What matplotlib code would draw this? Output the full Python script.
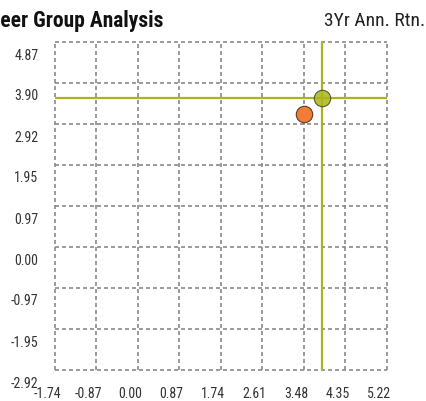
import matplotlib
matplotlib.use("Agg")
import matplotlib.pyplot as plt
from matplotlib.transforms import ScaledTranslation

x_ticks = [-1.74, -0.87, 0.00, 0.87, 1.74, 2.61, 3.48, 4.35, 5.22]
y_ticks = [-2.92, -1.95, -0.97, 0.00, 0.97, 1.95, 2.92, 3.90, 4.87]
x_labels = ["-1.74", "-0.87", "0.00", "0.87", "1.74", "2.61", "3.48", "4.35", "5.22"]
y_labels = ["-2.92", "-1.95", "-0.97", "0.00", "0.97", "1.95", "2.92", "3.90", "4.87"]

fund_x, fund_y = 3.85, 3.54
peer_x, peer_y = 3.48, 3.15

green = "#a9b51a"
orange = "#f07c35"
cond = ["Roboto Condensed", "Liberation Sans Narrow", "Roboto", "DejaVu Sans"]

fig = plt.figure(figsize=(4.27, 4.01), dpi=100)
ax = fig.add_axes([55 / 427, 31 / 401, 332 / 427, 328 / 401])

ax.set_xlim(x_ticks[0], x_ticks[-1])
ax.set_ylim(y_ticks[0], y_ticks[-1])
for s in ax.spines.values():
    s.set_visible(False)

dash = (0, (2.4, 1.8))
for xv in x_ticks:
    ax.axvline(xv, color="#8a8a8a", lw=1.2, ls=dash, zorder=1, clip_on=False)
for yv in y_ticks:
    ax.axhline(yv, color="#8a8a8a", lw=1.2, ls=dash, zorder=1, clip_on=False)

ax.axvline(fund_x, color=green, lw=1.6, zorder=3)
ax.axhline(fund_y, color=green, lw=1.6, zorder=3)

ax.scatter([peer_x], [peer_y], s=140, color=orange, edgecolor="#5a3a20", lw=0.8, zorder=4)
ax.scatter([fund_x], [fund_y], s=140, color=green, edgecolor="#444422", lw=0.8, alpha=0.85, zorder=5)

ax.set_xticks(x_ticks)
ax.set_yticks(y_ticks)
ax.set_xticklabels(x_labels, family=cond, fontstretch="condensed", fontsize=10, color="#333333")
ax.set_yticklabels(y_labels, family=cond, fontstretch="condensed", fontsize=10, color="#333333")
ax.tick_params(axis="both", length=0)
ax.tick_params(axis="x", pad=12)
ax.tick_params(axis="y", pad=12)
for t in ax.get_xticklabels():
    t.set_transform(t.get_transform() + ScaledTranslation(-8 / 100, 0, fig.dpi_scale_trans))
for t in ax.get_yticklabels():
    t.set_transform(t.get_transform() + ScaledTranslation(0, -12 / 100, fig.dpi_scale_trans))

fig.text(-12 / 427, 1 - 21 / 401, "Peer Group Analysis", family=cond, fontstretch="condensed",
         fontweight="bold", fontsize=15.5, color="#111111", ha="left", va="center")
fig.text(425 / 427, 1 - 21 / 401, "3Yr Ann. Rtn.", family=cond, fontstretch="condensed",
         fontsize=14, color="#222222", ha="right", va="center")

fig.savefig("out.png", dpi=100)
